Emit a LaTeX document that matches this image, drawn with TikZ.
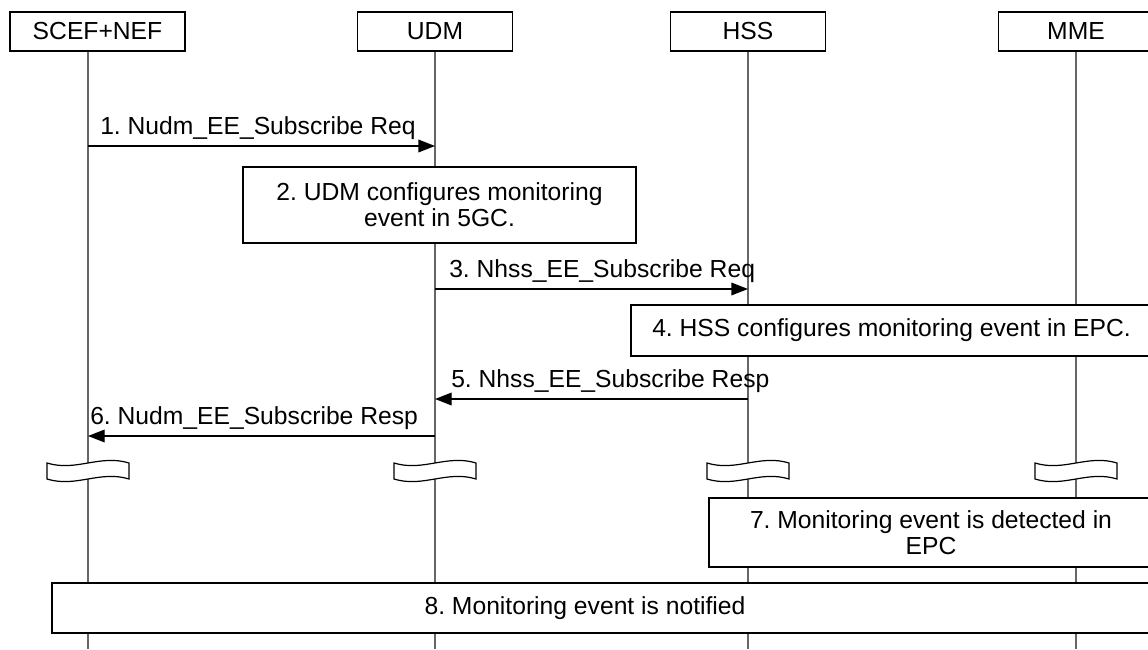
\documentclass[tikz,border=0pt]{standalone}
\usepackage{fontspec}
\setmainfont{Liberation Sans}
\usetikzlibrary{arrows.meta}
\frenchspacing
\begin{document}
\begin{tikzpicture}[x=0.75pt,y=-0.75pt,
  every node/.style={font=\fontsize{18.5}{19.5}\selectfont},
  actor/.style={draw,line width=1pt,fill=white,minimum height=39*0.75pt,minimum width=155*0.75pt,inner sep=0pt},
  lifeline/.style={draw=black!60,line width=0.8pt},
  msg/.style={draw,line width=1pt,-{Triangle[length=12.5pt,width=9.5pt]}},
  lbl/.style={anchor=west,inner sep=0pt},
  note/.style={draw,line width=1pt,fill=white,inner sep=0pt,align=center},
  brk/.style={draw,line width=0.9pt,fill=white}]
\useasboundingbox (0,0) rectangle (1148,649);
\clip (0,0) rectangle (1148,649);
\fill[white] (0,0) rectangle (1148,649);
% actors
\node[actor,minimum width=175*0.75pt] (scef) at (97.5,31.5) {SCEF+NEF};
\node[actor] (udm) at (435,31.5) {UDM};
\node[actor] (hss) at (748,31.5) {HSS};
\node[actor] (mme) at (1076,31.5) {MME};
% lifeline ends
\coordinate (scefE) at (88,649);
\coordinate (udmE) at (435,649);
\coordinate (hssE) at (748,649);
\coordinate (mmeE) at (1076,649);
\draw[lifeline] (scef.south -| scefE) -- (scefE);
\draw[lifeline] (udm.south) -- (udmE);
\draw[lifeline] (hss.south) -- (hssE);
\draw[lifeline] (mme.south) -- (mmeE);
% message 1
\coordinate (m1a) at (88,146); \coordinate (m1b) at (435,146);
\draw[msg] (m1a) -- (m1b);
\node[lbl] (l1) at (100,128) {1. Nudm\_EE\_Subscribe Req};
% box 2
\node[note,minimum width=393*0.75pt,minimum height=76*0.75pt] (b2) at (439.5,205)
  {2. UDM configures monitoring\\event in 5GC.};
% message 3
\coordinate (m3a) at (435,289); \coordinate (m3b) at (748,289);
\draw[msg] (m3a) -- (m3b);
\node[lbl] (l3) at (449,271) {3. Nhss\_EE\_Subscribe Req};
% box 4
\node[note,minimum width=521*0.75pt,minimum height=51*0.75pt] (b4) at (891.5,330.5)
  {4. HSS configures monitoring event in EPC.};
% message 5
\coordinate (m5a) at (748,399); \coordinate (m5b) at (435,399);
\draw[msg] (m5a) -- (m5b);
\node[lbl] (l5) at (451,381) {5. Nhss\_EE\_Subscribe Resp};
% message 6
\coordinate (m6a) at (435,436); \coordinate (m6b) at (88,436);
\draw[msg] (m6a) -- (m6b);
\node[lbl] (l6) at (90,418) {6. Nudm\_EE\_Subscribe Resp};
% breaks
\foreach \bx in {88,435,748,1076}{
  \draw[brk] (\bx-41,463) .. controls (\bx-12,472) and (\bx+12,454) .. (\bx+41,463)
    -- (\bx+41,479) .. controls (\bx+12,470) and (\bx-12,488) .. (\bx-41,479) -- cycle;
}
% box 7
\node[note,minimum width=444*0.75pt,minimum height=69*0.75pt] (b7) at (931,532.5)
  {7. Monitoring event is detected in\\EPC};
% box 8
\node[note,minimum width=1100*0.75pt,minimum height=50*0.75pt] (b8) at (602,608) {};
\node[inner sep=0pt] (t8) at (585,608) {8. Monitoring event is notified};
\end{tikzpicture}
\end{document}
